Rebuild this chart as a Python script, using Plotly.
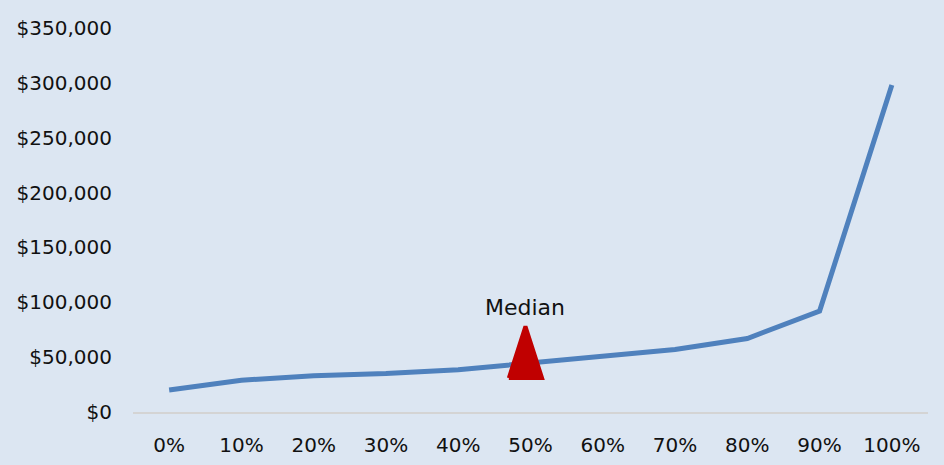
import plotly.graph_objects as go

# Income by percentile
percentiles = ["0%", "10%", "20%", "30%", "40%", "50%", "60%", "70%", "80%", "90%", "100%"]
income = [20000, 29000, 33000, 35000, 38500, 44500, 51500, 57000, 67000, 92000, 298000]

# Median marker: position along the percentile axis and vertical extent of the triangle
median_pos = 4.93
median_label = "Median"
marker_bottom = 31000
marker_top = 78000
marker_half_width = 0.23

y_ticks = [0, 50000, 100000, 150000, 200000, 250000, 300000, 350000]
y_tick_text = ["$" + f"{v:,}" for v in y_ticks]

BG = "#dce6f2"
FONT = "DejaVu Sans"

x_idx = list(range(len(percentiles)))

fig = go.Figure()

fig.add_trace(go.Scatter(
    x=x_idx, y=income, mode="lines",
    line=dict(color="#4f81bd", width=5),
    hoverinfo="skip", showlegend=False,
))

# Red triangle pointing up at the median
tri_x = [median_pos - marker_half_width, median_pos + marker_half_width, median_pos, median_pos - marker_half_width]
tri_y = [marker_bottom, marker_bottom, marker_top, marker_bottom]
fig.add_trace(go.Scatter(
    x=tri_x, y=tri_y, mode="lines", fill="toself",
    fillcolor="#c00000", line=dict(color="#c00000", width=4),
    hoverinfo="skip", showlegend=False,
))

fig.add_annotation(
    x=median_pos, y=marker_top, text=median_label, showarrow=False,
    yanchor="bottom", yshift=4, font=dict(family=FONT, size=22, color="#111111"),
)

fig.update_layout(
    width=944, height=465,
    margin=dict(l=133, r=16, t=28, b=53),
    paper_bgcolor=BG, plot_bgcolor=BG,
    font=dict(family=FONT, size=20, color="#111111"),
    xaxis=dict(
        range=[-0.5, 10.5], tickvals=x_idx, ticktext=percentiles,
        showgrid=False, zeroline=False, showline=True, linecolor="#d4d4d4", linewidth=2,
        ticks="", ticklabelstandoff=14, fixedrange=True, automargin=False,
    ),
    yaxis=dict(
        range=[0, 350000], tickvals=y_ticks, ticktext=y_tick_text,
        showgrid=False, zeroline=False, showline=False,
        ticks="", ticklabelstandoff=20, fixedrange=True, automargin=False,
    ),
)

fig.write_html("out.html")
